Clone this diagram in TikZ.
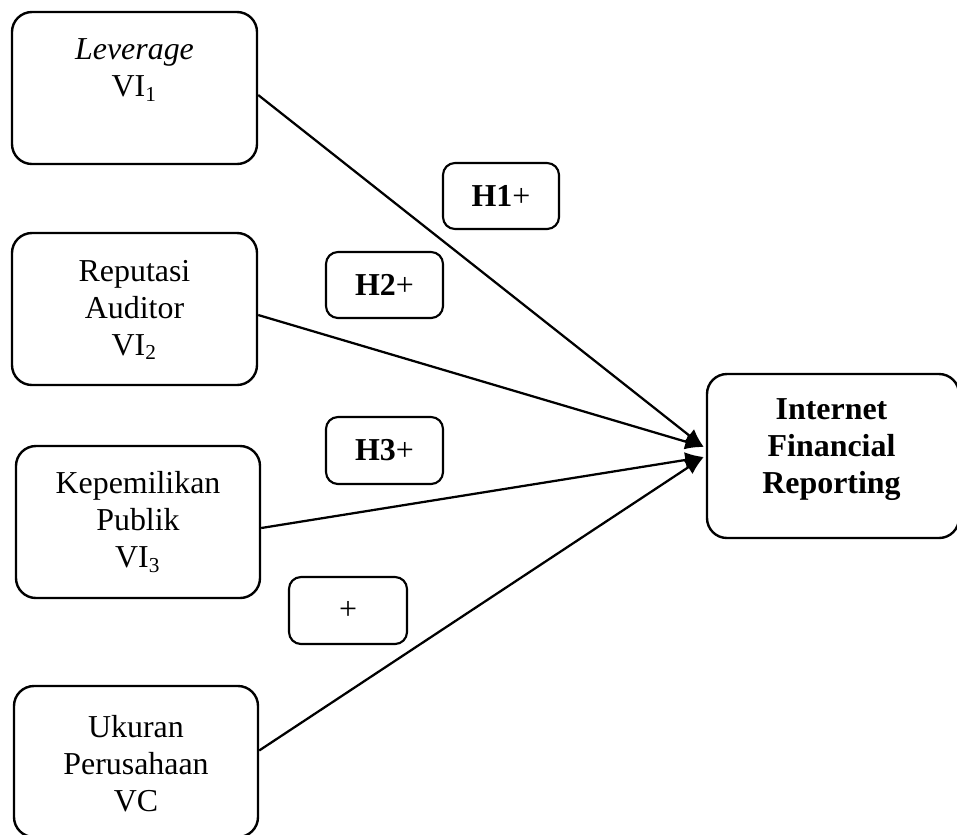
\documentclass[tikz,border=0pt]{standalone}
\usepackage{fontspec}
\setmainfont{Liberation Serif}
\usetikzlibrary{arrows.meta,calc,fit}
\begin{document}
\begin{tikzpicture}[x=0.376pt,y=-0.376pt,
  box/.style={draw, line width=0.9pt, rounded corners=7.5pt, inner sep=0pt},
  hbox/.style={draw, line width=0.8pt, rounded corners=4.5pt, inner sep=0pt},
  txt/.style={align=center, inner sep=0pt, font=\fontsize{12}{13.9}\selectfont},
  arr/.style={line width=0.85pt, -{Latex[length=7pt,width=6pt]}}]
\path[use as bounding box, clip] (0,0) rectangle (957,834);

% variable boxes
\node[box, fit={(12,12) (257,164)}] (b1) {};
\node[box, fit={(12,233) (257,385)}] (b2) {};
\node[box, fit={(16,446) (260,598)}] (b3) {};
\node[box, fit={(14,686) (258,837)}] (b4) {};
\node[box, fit={(707,374) (959,538)}] (ifr) {};

\node[txt] (t1) at (134.5,70) {\textit{Leverage}\\VI\textsubscript{1}};
\node[txt] (t2) at (134.5,310) {Reputasi\\Auditor\\VI\textsubscript{2}};
\node[txt] (t3) at (138,522) {Kepemilikan\\Publik\\VI\textsubscript{3}};
\node[txt] (t4) at (136,764) {Ukuran\\Perusahaan\\VC};
\node[txt, font=\fontsize{12}{13.9}\selectfont\bfseries] (t5) at (831.5,450) {Internet\\Financial\\Reporting};

% hypothesis boxes
\node[hbox, fit={(443,163) (559,229)}] (h1) {};
\node[hbox, fit={(326,252) (443,318)}] (h2) {};
\node[hbox, fit={(326,417) (443,484)}] (h3) {};
\node[hbox, fit={(289,577) (407,644)}] (h4) {};
\node[txt] (l1) at (h1.center) {\textbf{H1}+};
\node[txt] (l2) at (h2.center) {\textbf{H2}+};
\node[txt] (l3) at (h3.center) {\textbf{H3}+};
\node[txt] (l4) at (h4.center) {+};

% arrows
\draw[arr] ($(b1.east)+(0,7)$) -- ($(ifr.west)+(-2,-9)$);
\draw[arr] ($(b2.east)+(0,6)$) -- ($(ifr.west)+(-2,-9)$);
\draw[arr] ($(b3.east)+(0,6)$) -- ($(ifr.west)+(-2,1)$);
\draw[arr] ($(b4.east)+(0,-11)$) -- ($(ifr.west)+(-2,1)$);
\end{tikzpicture}
\end{document}
